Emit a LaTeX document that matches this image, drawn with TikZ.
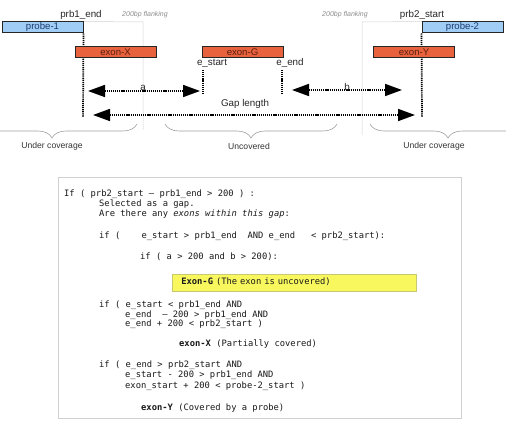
\documentclass[tikz,border=0pt]{standalone}
\usepackage{fontspec}
\setmainfont{Liberation Sans}
\newfontfamily\codefont{DejaVu Sans Mono}
\usetikzlibrary{arrows.meta,decorations.pathreplacing,backgrounds}
\definecolor{probefill}{HTML}{A0CDF5}
\definecolor{exonfill}{HTML}{E8623E}
\definecolor{exontext}{HTML}{5A1E0E}
\definecolor{probetext}{HTML}{1C3C70}
\definecolor{flankgray}{HTML}{AAAAAA}
\definecolor{bracegray}{HTML}{A0A0A0}
\definecolor{hlfill}{HTML}{F8F85E}
\definecolor{hldraw}{HTML}{C8C870}
\definecolor{boxgray}{HTML}{D0D0D0}
\tikzset{
  probebox/.style={draw=black!85, line width=1pt, fill=probefill, minimum width=81pt, minimum height=11pt, inner sep=0pt, font=\fontsize{9.6}{10}\selectfont, text=probetext},
  exonbox/.style={draw=black!85, line width=1pt, fill=exonfill, minimum width=81pt, minimum height=11pt, inner sep=0pt, font=\fontsize{9.6}{10}\selectfont, text=exontext},
  lbl/.style={inner sep=0pt, font=\fontsize{9.8}{11}\selectfont, text=black!85},
  flanklbl/.style={inner sep=0pt, font=\fontsize{7}{8}\selectfont\itshape, text=black!45},
  bracelbl/.style={inner sep=0pt, font=\fontsize{8.6}{10}\selectfont, text=black!80},
  dots/.style={line width=1.7pt, dash pattern=on 1.2pt off 0.9pt},
  flank/.style={flankgray, line width=0.5pt, dash pattern=on 1pt off 1pt},
  dimarrow/.style={dots, {Triangle[length=17pt,width=12pt]}-{Triangle[length=17pt,width=12pt]}},
  gbrace/.style={bracegray, line width=0.6pt, decorate, decoration={brace, mirror, amplitude=14pt, aspect=0.5}},
  code/.style={anchor=west, inner sep=0pt, font=\codefont\fontsize{8.8}{10}\selectfont, text=black!90, text height=6.5pt, text depth=1.8pt},
  hlbox/.style={code, draw=hldraw, line width=0.6pt, fill=hlfill, minimum width=244pt, minimum height=17pt, inner xsep=9pt, text width=226pt, align=left},
}
\begin{document}
\begin{tikzpicture}[x=1pt, y=-1pt]
\useasboundingbox (0,0) rectangle (506,425);
% boxes
\node[probebox] (probe1) at (42.5,27.5) {probe-1};
\node[probebox] (probe2) at (462.5,27.5) {probe-2};
\node[exonbox] (exonX) at (115.5,52.5) {exon-X};
\node[exonbox] (exonG) at (242.5,52.5) {exon-G};
\node[exonbox] (exonY) at (414,52.5) {exon-Y};
% labels
\node[lbl] (prb1lbl) at (81,15) {prb1\_end};
\node[lbl] (prb2lbl) at (422,15) {prb2\_start};
\node[flanklbl] (fl1) at (145,15) {200bp flanking};
\node[flanklbl] (fl2) at (345,15) {200bp flanking};
\node[lbl] (estart) at (212,63) {e\_start};
\node[lbl] (eend) at (290,63) {e\_end};
% coordinates
\coordinate (f1c) at (143,22);
\coordinate (f1b) at (143,130);
\coordinate (f2c) at (362,22);
\coordinate (f2b) at (362,135);
\coordinate (p1b) at (83,117);
\coordinate (p2b) at (422,117);
\coordinate (es1) at (203,70);
\coordinate (es2) at (203,94);
\coordinate (ee1) at (282,70);
\coordinate (ee2) at (282,94);
\coordinate (a1) at (88,91);
\coordinate (a2) at (200,91);
\coordinate (b1) at (292,90);
\coordinate (b2) at (402,90);
\coordinate (g1) at (93,115);
\coordinate (g2) at (415,115);
\begin{scope}[on background layer]
\draw[flank] (probe1.north east) -- (f1c) -- (f1b);
\draw[flank] (probe2.north west) -- (f2c) -- (f2b);
\draw[dots] (probe1.south east) -- (p1b);
\draw[dots] (probe2.south west) -- (p2b);
\end{scope}
\draw[dots, line width=1.5pt] (es1) -- (es2);
\draw[dots, line width=1.5pt] (ee1) -- (ee2);
\draw[dimarrow] (a1) -- (a2);
\draw[dimarrow] (b1) -- (b2);
\draw[dimarrow] (g1) -- (g2);
\node[lbl] (alab) at (143,88) {a};
\node[lbl] (blab) at (347,86.5) {b};
\node[lbl] (gaplab) at (245,104) {Gap length};
% braces
\coordinate (br1a) at (-33,124);
\coordinate (br1b) at (137,124);
\coordinate (br2a) at (165,124);
\coordinate (br2b) at (337,124);
\coordinate (br3a) at (370,124);
\coordinate (br3b) at (526,124);
\draw[gbrace] (br1a) -- (br1b);
\draw[gbrace] (br2a) -- (br2b);
\draw[gbrace] (br3a) -- (br3b);
\node[bracelbl] (uc1) at (52,146) {Under coverage};
\node[bracelbl] (unc) at (249,146) {Uncovered};
\node[bracelbl] (uc2) at (434,146) {Under coverage};
% code box
\node[draw=boxgray, line width=1.3pt, fill=white, minimum width=403pt, minimum height=241pt, anchor=north west, inner sep=0pt] (codebox) at (58,177) {};
\node[code] (l1) at (64,194) {If ( prb2\_start – prb1\_end > 200 ) :};
\node[code] (l2) at (99,204) {Selected as a gap.};
\node[code] (l3) at (99,214) {Are there any \textit{exons within this gap}:};
\node[code] (l4) at (99,236) {if (\ \ \ \ e\_start > prb1\_end\ \ AND e\_end\ \ \ < prb2\_start):};
\node[code] (l5) at (140,257) {if ( a > 200 and b > 200):};
\node[hlbox] (l6) at (172,282.5) {\textbf{Exon-G} (The exon is uncovered)};
\node[code] (l7) at (99,305) {if ( e\_start < prb1\_end AND};
\node[code] (l8) at (125,315) {e\_end\ \ – 200 > prb1\_end AND};
\node[code] (l9) at (125,324.5) {e\_end + 200 < prb2\_start )};
\node[code] (l10) at (179,344) {\textbf{exon-X} (Partially covered)};
\node[code] (l11) at (99,365) {if ( e\_end > prb2\_start AND};
\node[code] (l12) at (125,375.5) {e\_start - 200 > prb1\_end AND};
\node[code] (l13) at (125,386) {exon\_start + 200 < probe-2\_start )};
\node[code] (l14) at (141,408) {\textbf{exon-Y} (Covered by a probe)};
\end{tikzpicture}
\end{document}
